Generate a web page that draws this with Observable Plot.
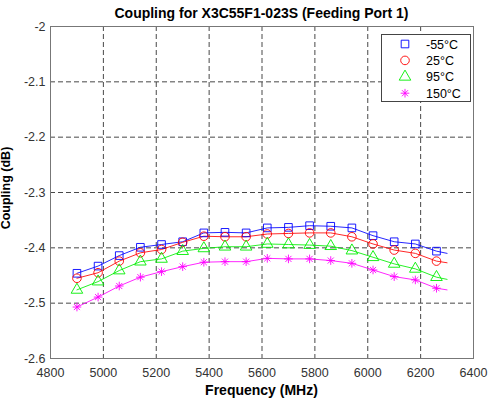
<!DOCTYPE html>
<html>
<head>
<meta charset="utf-8">
<script src="https://cdn.jsdelivr.net/npm/d3@7"></script>
<script src="https://cdn.jsdelivr.net/npm/@observablehq/plot@0.6"></script>
<style>
  html, body { margin: 0; padding: 0; background: #fff; }
  #chart { width: 488px; height: 400px; overflow: hidden; }
  svg { font-family: "Liberation Sans", Arial, sans-serif; }
</style>
</head>
<body>
<div id="chart"></div>
<script>
// Frequencies (MHz); last value is the line end without a marker
const freqs = [4900, 4980, 5060, 5140, 5220, 5300, 5380, 5460, 5540, 5620, 5700, 5780, 5860, 5940, 6020, 6100, 6180, 6260, 6300];
const seriesNames = ["-55°C", "25°C", "95°C", "150°C"];
const m55 = [-2.446, -2.433, -2.414, -2.399, -2.394, -2.389, -2.373, -2.372, -2.373, -2.364, -2.363, -2.360, -2.361, -2.364, -2.378, -2.389, -2.393, -2.406, -2.410];
const p25 = [-2.455, -2.445, -2.424, -2.409, -2.403, -2.390, -2.379, -2.380, -2.380, -2.375, -2.374, -2.373, -2.373, -2.380, -2.393, -2.404, -2.410, -2.424, -2.427];
const p95 = [-2.476, -2.461, -2.441, -2.425, -2.420, -2.406, -2.401, -2.398, -2.398, -2.393, -2.394, -2.395, -2.397, -2.405, -2.417, -2.429, -2.438, -2.453, -2.457];
const p150 = [-2.507, -2.489, -2.469, -2.453, -2.443, -2.434, -2.426, -2.425, -2.425, -2.419, -2.420, -2.420, -2.423, -2.428, -2.440, -2.452, -2.458, -2.473, -2.476];
const xTicks = [4800, 5000, 5200, 5400, 5600, 5800, 6000, 6200, 6400];
const yTicks = [-2, -2.1, -2.2, -2.3, -2.4, -2.5, -2.6];
const colors = ["#0000ff", "#ff0000", "#00ee00", "#ff00ff"];

// MATLAB-style '*' marker: a plus and a cross
const star = {
  draw(ctx, size) {
    const r = Math.sqrt(size / Math.PI);
    const d = r * Math.SQRT1_2;
    ctx.moveTo(0, -r); ctx.lineTo(0, r);
    ctx.moveTo(-r, 0); ctx.lineTo(r, 0);
    ctx.moveTo(-d, -d); ctx.lineTo(d, d);
    ctx.moveTo(-d, d); ctx.lineTo(d, -d);
  }
};
const symbols = [d3.symbolSquare, d3.symbolCircle, d3.symbolTriangle, star];

const allSeries = [m55, p25, p95, p150];
const data = [];
allSeries.forEach((vals, si) => {
  vals.forEach((v, i) => data.push({f: freqs[i], v, s: seriesNames[si], marker: i < freqs.length - 1}));
});

const W = 488, H = 400;
const mL = 50, mR = 15, mT = 26, mB = 42;

const chart = Plot.plot({
  width: W, height: H,
  marginLeft: mL, marginRight: mR, marginTop: mT, marginBottom: mB,
  style: {fontFamily: '"Liberation Sans", Arial, sans-serif', fontSize: "12.5px", color: "#333", background: "#fff"},
  x: {domain: [4800, 6400], ticks: xTicks, tickSize: 0, tickPadding: 10, tickFormat: d => String(d), label: null},
  y: {domain: [-2.6, -2], ticks: yTicks, tickSize: 0, tickPadding: 5, tickFormat: d => String(d), label: null},
  color: {domain: seriesNames, range: colors},
  symbol: {domain: seriesNames, range: symbols},
  marks: [
    Plot.ruleX(xTicks.slice(1, -1), {stroke: "#333", strokeDasharray: "5,3", strokeWidth: 0.9}),
    Plot.ruleY(yTicks.slice(1, -1), {stroke: "#333", strokeDasharray: "5,3", strokeWidth: 0.9}),
    Plot.line(data, {x: "f", y: "v", z: "s", stroke: "s", strokeWidth: 0.85}),
    Plot.dot(data.filter(d => d.marker), {x: "f", y: "v", stroke: "s", symbol: "s", r: 4.3, strokeWidth: 0.9, fill: "none"}),
    Plot.frame({stroke: "#777", strokeWidth: 1})
  ]
});

document.getElementById("chart").appendChild(chart);
const svg = d3.select(chart);

// Title
svg.append("text").attr("x", (mL + W - mR) / 2).attr("y", 18)
  .attr("text-anchor", "middle").attr("font-weight", "bold").attr("font-size", 14).attr("fill", "#000")
  .text("Coupling for X3C55F1-023S (Feeding Port 1)");
// X label
svg.append("text").attr("x", (mL + W - mR) / 2).attr("y", 395)
  .attr("text-anchor", "middle").attr("font-weight", "bold").attr("font-size", 14).attr("fill", "#000")
  .text("Frequency (MHz)");
// Y label
svg.append("text").attr("transform", `translate(10,188) rotate(-90)`)
  .attr("text-anchor", "middle").attr("font-weight", "bold").attr("font-size", 12.5).attr("fill", "#000")
  .text("Coupling (dB)");

// Legend
const lg = svg.append("g");
lg.append("rect").attr("x", 381.5).attr("y", 34.5).attr("width", 89).attr("height", 67)
  .attr("fill", "#fff").attr("stroke", "#444").attr("stroke-width", 1);
seriesNames.forEach((n, i) => {
  const cy = 44 + i * 16.4;
  lg.append("path").attr("transform", `translate(405,${cy})`)
    .attr("d", d3.symbol(symbols[i], Math.PI * 4.3 * 4.3)())
    .attr("fill", "none").attr("stroke", colors[i]).attr("stroke-width", 0.9);
  lg.append("text").attr("x", 426).attr("y", cy + 4.5).attr("text-anchor", "start")
    .attr("font-size", 12.5).attr("fill", "#000").text(n);
});
</script>
</body>
</html>
